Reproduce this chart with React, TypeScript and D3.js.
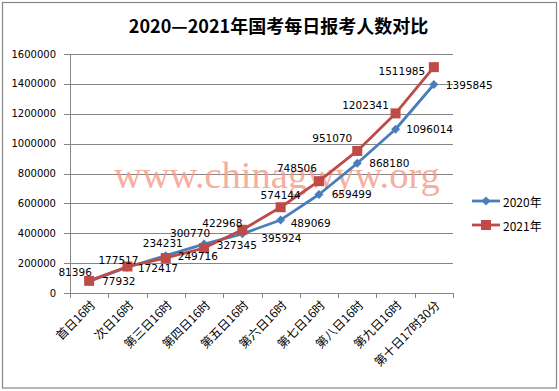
import React from "react";
import * as d3 from "d3";

const categories = [
  "首日16时", "次日16时", "第三日16时", "第四日16时", "第五日16时",
  "第六日16时", "第七日16时", "第八日16时", "第九日16时", "第十日17时30分",
];
const values2020 = [77932, 172417, 249716, 327345, 395924, 489069, 659499, 868180, 1096014, 1395845];
const values2021 = [81396, 177517, 234231, 300770, 422968, 574144, 748506, 951070, 1202341, 1511985];
const yTicks = [0, 200000, 400000, 600000, 800000, 1000000, 1200000, 1400000, 1600000];
const seriesNames = ["2020年", "2021年"];
const title = "2020—2021年国考每日报考人数对比";
const watermark = "www.chinagwyw.org";

// layout: label offsets (label centre relative to point) for the 2021 series
const off2021 = [
  [-14, -9], [-9, -6], [-3, -15], [-14, -15], [-20, -7],
  [0, -12], [-22, -13.5], [-25, -13], [-30, -8], [-32, 4],
];
// layout: label offsets (label start relative to point) for the 2020 series
const off2020 = [
  [13, 0], [10.5, 1], [12, 0], [12.7, 1], [19, 4.5],
  [10, 3.5], [12.7, 0], [12, 0], [10.7, 0], [12, 0.5],
];

const BLUE = "#4a7ebb";
const RED = "#be4b48";
const GRID = "#868686";

export default function App() {
  const W = 559, H = 391;
  const x = d3.scaleBand<string>().domain(categories).range([70, 453]);
  const y = d3.scaleLinear().domain([0, 1600000]).range([293, 54]);
  const cx = (i: number) => (x(categories[i]) as number) + x.bandwidth() / 2;
  const line = d3.line<number>().x((_, i) => cx(i)).y((d) => y(d));
  const boundaries = categories.map((c) => x(c) as number).concat([453]);
  const numFont = "'DejaVu Sans', Verdana, sans-serif";
  const cjkFont = "'Noto Sans CJK SC', sans-serif";

  const diamond = (px: number, py: number, r: number) =>
    `M${px},${py - r}L${px + r},${py}L${px},${py + r}L${px - r},${py}Z`;

  return (
    <svg width={W} height={H} style={{ position: "absolute", left: 0, top: 0 }}>
      <rect x={0} y={0} width={W} height={H} fill="#fff" />
      <rect x={2.5} y={2.5} width={554} height={385.5} fill="none" stroke={GRID} strokeWidth={1.2} />
      <text x={278.5} y={33} textAnchor="middle" fontFamily={cjkFont} fontWeight="bold" fontSize={18} fill="#000">
        {title}
      </text>

      {/* gridlines */}
      {yTicks.map((t) => (
        <g key={t}>
          <line x1={64} x2={453} y1={Math.round(y(t)) + 0.5} y2={Math.round(y(t)) + 0.5} stroke={GRID} strokeWidth={1} />
          <text x={56} y={y(t)} textAnchor="end" dominantBaseline="central" fontFamily={numFont} fontSize={10} fill="#000">
            {t}
          </text>
        </g>
      ))}
      {/* y axis */}
      <line x1={70.5} x2={70.5} y1={54} y2={293} stroke={GRID} strokeWidth={1} />
      {/* x ticks */}
      {boundaries.map((b, i) => (
        <line key={i} x1={Math.round(b) + 0.5} x2={Math.round(b) + 0.5} y1={293} y2={298} stroke={GRID} strokeWidth={1} />
      ))}
      {/* x labels */}
      {categories.map((c, i) => (
        <text
          key={c}
          transform={`translate(${cx(i) + 3},${302}) rotate(-45)`}
          textAnchor="end"
          dominantBaseline="central"
          fontFamily={cjkFont}
          fontSize={12}
          fill="#000"
        >
          {c}
        </text>
      ))}

      {/* watermark */}
      <text x={114} y={188} fontFamily="'Liberation Serif', 'Times New Roman', serif" fontSize={38.5} fill="#f59c88" opacity={0.8}>
        {watermark}
      </text>

      {/* lines */}
      <path d={line(values2020) as string} fill="none" stroke={BLUE} strokeWidth={2.8} strokeLinejoin="round" />
      {values2020.map((v, i) => (
        <path key={i} d={diamond(cx(i), y(v), 4.5)} fill={BLUE} />
      ))}
      <path d={line(values2021) as string} fill="none" stroke={RED} strokeWidth={2.8} strokeLinejoin="round" />
      {values2021.map((v, i) => (
        <rect key={i} x={cx(i) - 5} y={y(v) - 5} width={10} height={10} fill={RED} />
      ))}

      {/* data labels */}
      {values2020.map((v, i) => (
        <text key={i} x={cx(i) + off2020[i][0]} y={y(v) + off2020[i][1]} dominantBaseline="central" fontFamily={numFont} fontSize={10.5} fill="#000">
          {v}
        </text>
      ))}
      {values2021.map((v, i) => (
        <text key={i} x={cx(i) + off2021[i][0]} y={y(v) + off2021[i][1]} textAnchor="middle" dominantBaseline="central" fontFamily={numFont} fontSize={10.5} fill="#000">
          {v}
        </text>
      ))}

      {/* legend */}
      <line x1={472} x2={500} y1={201} y2={201} stroke={BLUE} strokeWidth={2.8} />
      <path d={diamond(486, 201, 4.5)} fill={BLUE} />
      <text x={503} y={201} dominantBaseline="central" fontFamily={cjkFont} fontSize={12} fill="#000">{seriesNames[0]}</text>
      <line x1={472} x2={500} y1={225} y2={225} stroke={RED} strokeWidth={2.8} />
      <rect x={481} y={220} width={10} height={10} fill={RED} />
      <text x={503} y={225} dominantBaseline="central" fontFamily={cjkFont} fontSize={12} fill="#000">{seriesNames[1]}</text>
    </svg>
  );
}
